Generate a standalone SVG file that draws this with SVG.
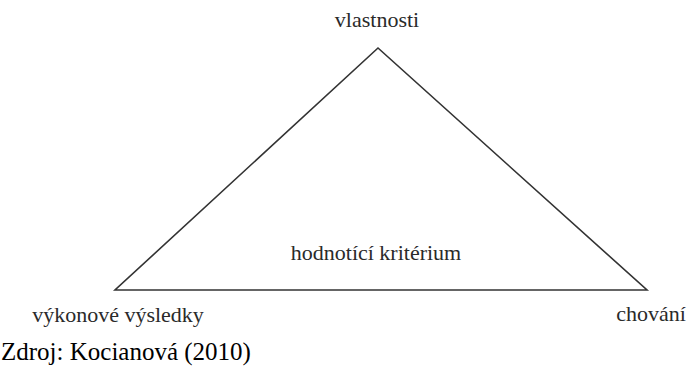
<svg xmlns="http://www.w3.org/2000/svg" width="688" height="367" viewBox="0 0 688 367">
<style>
text{font-family:"Liberation Serif","Times New Roman",Times,serif}
.l{font-size:22px;fill:#2a2a2a}
.src{font-size:25px;fill:#000}
</style>
<rect width="688" height="367" fill="#fff"/>
<g id="connectors">
<polygon points="378,48 115,290 647,290" fill="none" stroke="#333" stroke-width="1.6"/>
</g>
<g id="vlastnosti"><text class="l" x="377" y="27" text-anchor="middle">vlastnosti</text></g>
<g id="vykonove"><text class="l" x="118" y="322" text-anchor="middle">výkonové výsledky</text></g>
<g id="chovani"><text class="l" x="651" y="321" text-anchor="middle">chování</text></g>
<g id="kriterium"><text class="l" x="376" y="260" text-anchor="middle">hodnotící kritérium</text></g>
<text class="src" x="1" y="360">Zdroj: Kocianová (2010)</text>
</svg>
